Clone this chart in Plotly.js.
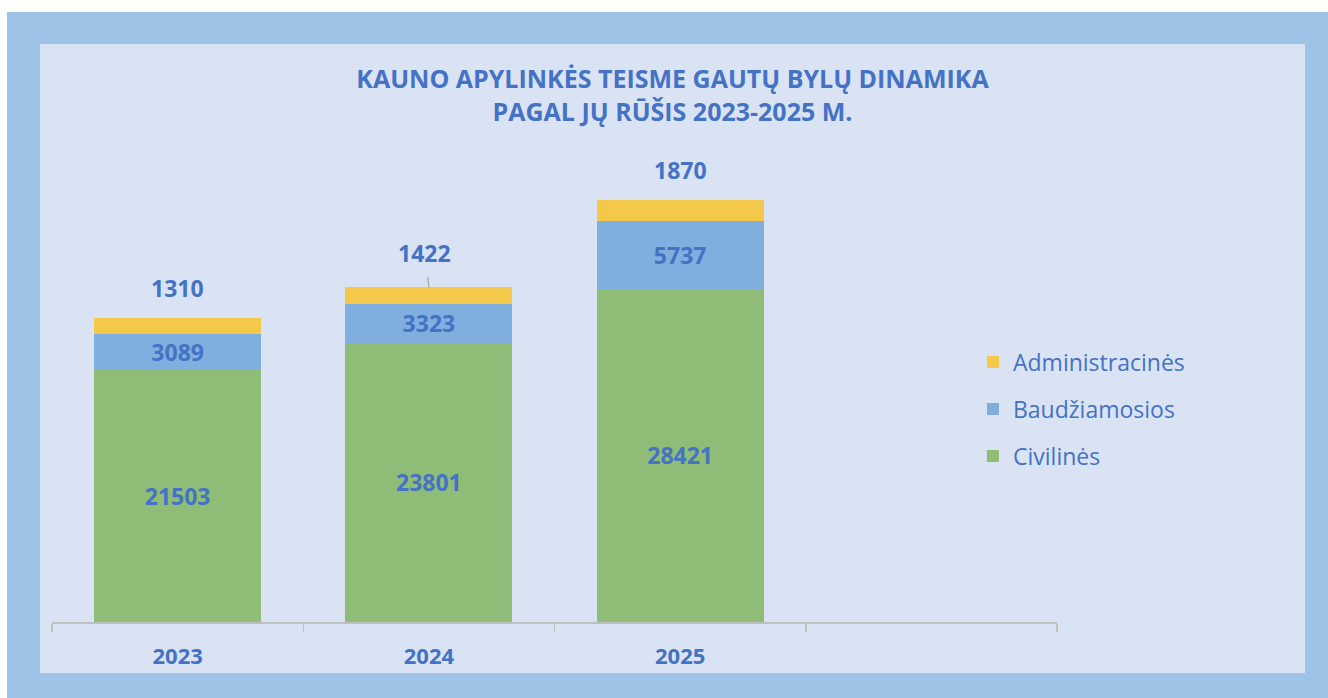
<!DOCTYPE html>
<html>
<head>
<meta charset="utf-8">
<script src="https://cdn.plot.ly/plotly-3.0.1.min.js"></script>
<style>
  html, body { margin: 0; padding: 0; background: #ffffff; width: 1328px; height: 698px; overflow: hidden; }
  #outer { position: absolute; left: 7px; top: 12px; width: 1321px; height: 686px; background: #9DC3E6; }
  #chart { position: absolute; left: 40px; top: 44px; width: 1265px; height: 629px; background: #DAE3F3; }
</style>
</head>
<body>
<div id="outer"></div>
<div id="chart"></div>
<script>
// ---- data ----
const years = ['2023', '2024', '2025'];
const civilines = [21503, 23801, 28421];
const baudziamosios = [3089, 3323, 5737];
const administracines = [1310, 1422, 1870];
const seriesNames = ['Civilinės', 'Baudžiamosios', 'Administracinės'];
const titleLines = ['KAUNO APYLINKĖS TEISME GAUTŲ BYLŲ DINAMIKA', 'PAGAL JŲ RŪŠIS 2023-2025 M.'];

// ---- styling ----
const txtColor = '#4472C4';
const fontFam = '"Open Sans", "Noto Sans", sans-serif';
const xIdx = years.map((_, i) => i);

function barTrace(name, vals, color, showText, rank) {
  return {
    type: 'bar', name: name, x: xIdx, y: vals,
    marker: { color: color, line: { width: 0 } },
    text: showText ? vals.map(String) : undefined,
    textposition: showText ? 'inside' : 'none',
    insidetextanchor: 'middle',
    textangle: 0,
    constraintext: 'none',
    textfont: { family: fontFam, size: 23, color: txtColor, weight: 700 },
    legendgroup: name,
    legendrank: rank,
    hoverinfo: 'name+y'
  };
}

const traces = [
  barTrace(seriesNames[0], civilines, '#8FBC77', true, 3),
  barTrace(seriesNames[1], baudziamosios, '#7FAEDF', true, 2),
  barTrace(seriesNames[2], administracines, '#F4C84A', false, 1)
];

const totals = xIdx.map(i => civilines[i] + baudziamosios[i] + administracines[i]);
const annotations = xIdx.map(i => {
  const withArrow = (i === 1);
  return {
    x: i, y: totals[i], xref: 'x', yref: 'y',
    text: String(administracines[i]),
    font: { family: fontFam, size: 23, color: txtColor, weight: 700 },
    showarrow: withArrow,
    arrowhead: 0, arrowwidth: 1.2, arrowcolor: '#A6A6A6',
    ax: withArrow ? -4 : 0, ay: withArrow ? -34 : 0,
    startstandoff: withArrow ? 6 : 0,
    yanchor: withArrow ? undefined : 'middle',
    yshift: withArrow ? 0 : 30
  };
});

const boundaries = Array.from({ length: years.length + 2 }, (_, i) => i - 0.5);

const layout = {
  width: 1265, height: 629,
  paper_bgcolor: 'rgba(0,0,0,0)',
  plot_bgcolor: 'rgba(0,0,0,0)',
  margin: { l: 12, r: 248, t: 106, b: 51, pad: 0 },
  barmode: 'stack',
  bargap: 0.335,
  showlegend: true,
  title: {
    text: titleLines.join('<br>'),
    font: { family: fontFam, size: 25, color: txtColor, weight: 700 },
    x: 0.5, xref: 'container', xanchor: 'center',
    y: 1 - 44 / 629, yref: 'container', yanchor: 'middle'
  },
  xaxis: {
    type: 'linear',
    range: [-0.5, years.length + 0.5],
    tickmode: 'array', tickvals: xIdx, ticktext: years,
    ticks: '',
    ticklabelstandoff: 14,
    tickfont: { family: fontFam, size: 22, color: txtColor, weight: 700 },
    showgrid: false, zeroline: false,
    showline: true, linecolor: '#BFBFBF', linewidth: 1.5,
    minor: { tickmode: 'array', tickvals: boundaries, ticks: 'outside', ticklen: 8, tickcolor: '#BFBFBF', tickwidth: 1.5, showgrid: false },
    fixedrange: true
  },
  yaxis: {
    range: [0, 40250],
    visible: false,
    showgrid: false, zeroline: false,
    fixedrange: true
  },
  legend: {
    x: 0.9164, xanchor: 'left',
    y: 0.451, yanchor: 'middle',
    traceorder: 'grouped',
    tracegroupgap: 14,
    bgcolor: 'rgba(0,0,0,0)',
    font: { family: fontFam, size: 23, color: txtColor }
  },
  annotations: annotations,
  font: { family: fontFam, color: txtColor }
};

Plotly.newPlot('chart', traces, layout, { displayModeBar: false, staticPlot: true });
</script>
</body>
</html>
